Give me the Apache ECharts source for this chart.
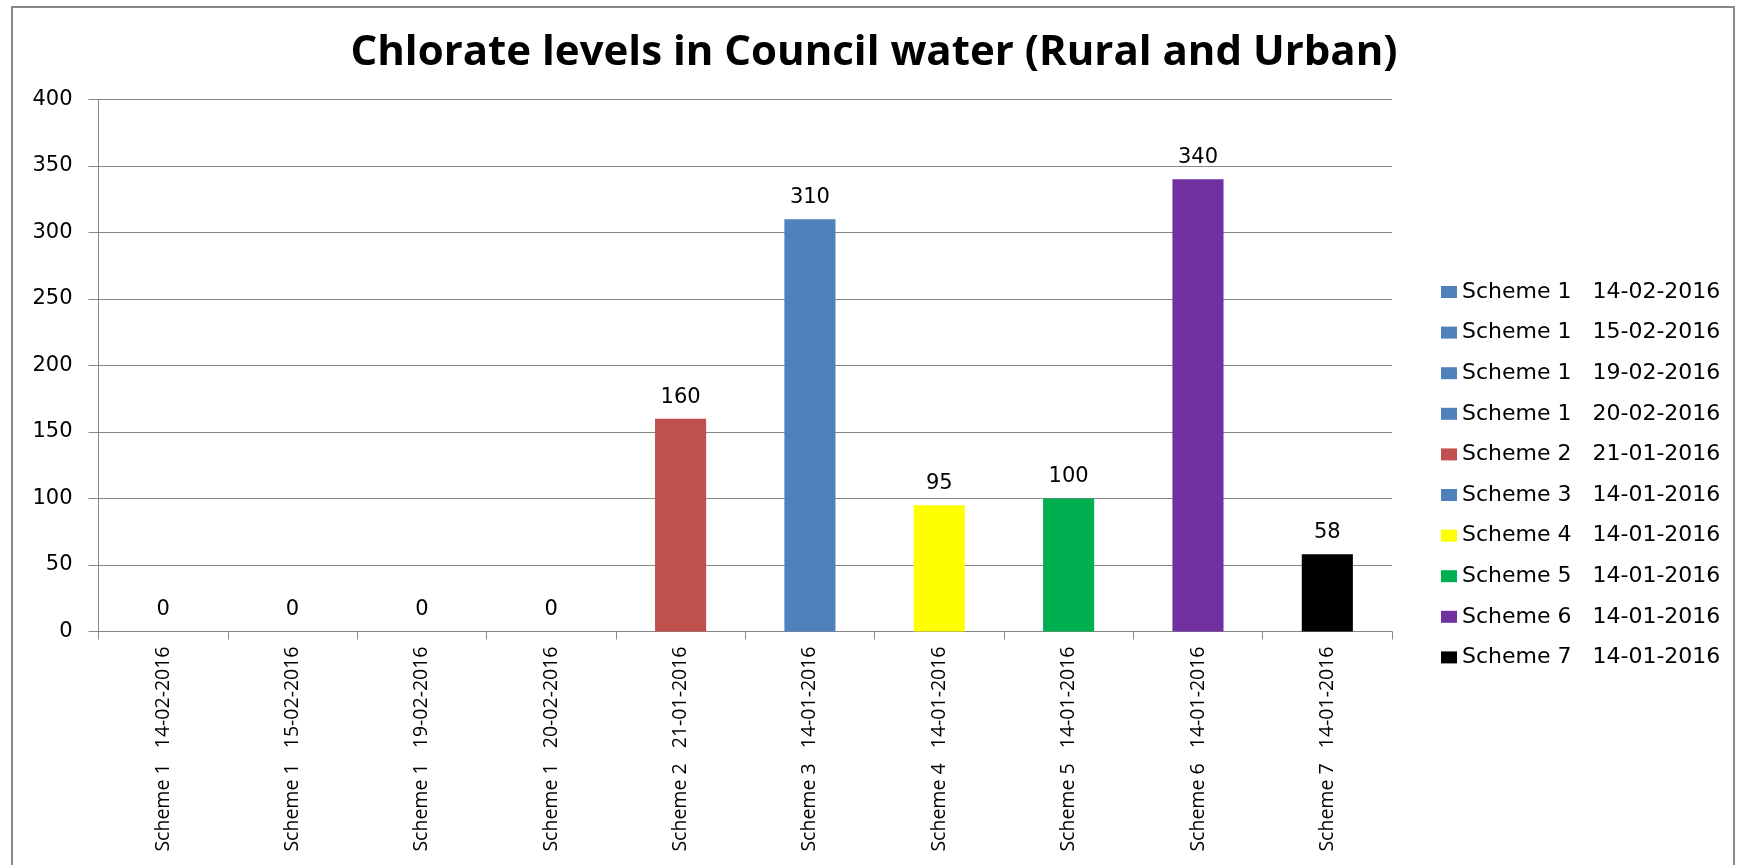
<!DOCTYPE html>
<html><head><meta charset="utf-8">
<script src="https://cdn.jsdelivr.net/npm/echarts@6/dist/echarts.min.js"></script>
<style>html,body{margin:0;padding:0;background:#fff}#c{width:1748px;height:865px}</style>
</head><body><div id="c"></div>
<script>
const titleText = 'Chlorate levels in Council water (Rural and Urban)';
const categories = [
  'Scheme 1   14-02-2016',
  'Scheme 1   15-02-2016',
  'Scheme 1   19-02-2016',
  'Scheme 1   20-02-2016',
  'Scheme 2   21-01-2016',
  'Scheme 3   14-01-2016',
  'Scheme 4   14-01-2016',
  'Scheme 5   14-01-2016',
  'Scheme 6   14-01-2016',
  'Scheme 7   14-01-2016'
];
const values = [0, 0, 0, 0, 160, 310, 95, 100, 340, 58];
const colors = ['#4F81BD', '#4F81BD', '#4F81BD', '#4F81BD', '#C0504D', '#4F81BD', '#FFFF00', '#00B050', '#7030A0', '#000000'];
const yMin = 0, yMax = 400, yInterval = 50;

const chart = echarts.init(document.getElementById('c'), null, {renderer: 'canvas'});
const series = categories.map((name, i) => ({
  name: name,
  type: 'bar',
  stack: 'all',
  barWidth: '39.5%',
  data: categories.map((_, j) => (j === i ? values[i] : '-')),
  itemStyle: {color: colors[i]},
  label: {
    show: true,
    position: 'top',
    distance: 11,
    color: '#000',
    fontFamily: 'DejaVu Sans',
    fontSize: 21
  }
}));

chart.setOption({
  animation: false,
  backgroundColor: '#fff',
  title: {
    text: titleText,
    left: 'center',
    top: 27,
    textStyle: {fontFamily: 'Open Sans', fontWeight: 'bold', fontSize: 42, color: '#000'}
  },
  graphic: [{
    type: 'rect',
    shape: {x: 12, y: 7, width: 1722, height: 900},
    style: {fill: 'none', stroke: '#898989', lineWidth: 2},
    silent: true
  }],
  legend: {
    orient: 'vertical',
    left: 1436,
    top: 276,
    icon: 'rect',
    itemWidth: 16,
    itemHeight: 12,
    itemGap: 18.6,
    textStyle: {fontFamily: 'DejaVu Sans', fontSize: 22, lineHeight: 22, color: '#000'}
  },
  grid: {left: 98.5, right: 356, top: 99.5, bottom: 233.5, containLabel: false, outerBoundsMode: 'none'},
  xAxis: {
    type: 'category',
    data: categories,
    boundaryGap: true,
    axisLine: {lineStyle: {color: '#868686', width: 1}},
    axisTick: {show: true, length: 8, alignWithLabel: false, interval: 0, lineStyle: {color: '#868686'}},
    axisLabel: {
      interval: 0,
      rotate: 90,
      margin: 15,
      color: '#000',
      fontFamily: 'Open Sans',
      fontSize: 19.5
    }
  },
  yAxis: {
    type: 'value',
    min: yMin,
    max: yMax,
    interval: yInterval,
    axisLine: {show: true, lineStyle: {color: '#868686', width: 1}},
    axisTick: {show: true, length: 10, lineStyle: {color: '#868686'}},
    splitLine: {show: true, lineStyle: {color: '#868686', width: 1}},
    axisLabel: {margin: 26, color: '#000', fontFamily: 'DejaVu Sans', fontSize: 21}
  },
  series: series
});
</script>
</body></html>
